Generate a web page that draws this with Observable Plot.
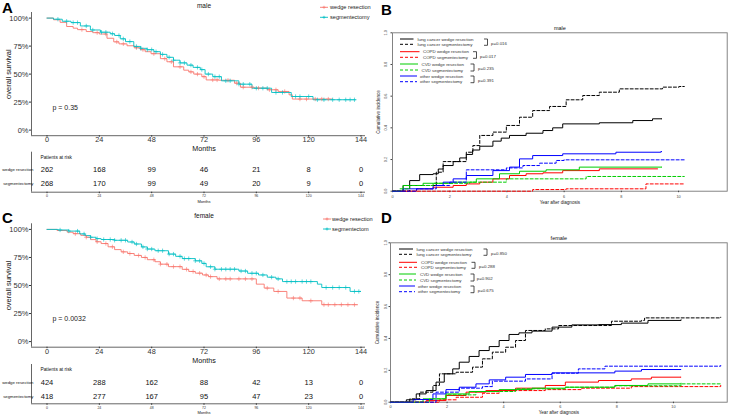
<!DOCTYPE html>
<html><head><meta charset="utf-8">
<script src="https://cdn.jsdelivr.net/npm/d3@7"></script>
<script src="https://cdn.jsdelivr.net/npm/@observablehq/plot@0.6"></script>
<style>
body{margin:0;background:#fff;}
#root{position:relative;width:730px;height:419px;overflow:hidden;background:#fff;font-family:"Liberation Sans",Arial,Helvetica,sans-serif;}
#root svg{overflow:visible;}
.letter{position:absolute;font-weight:bold;font-size:15px;line-height:1;color:#000;}
</style></head><body><div id="root"></div>
<script>
// ---------------- DATA ----------------
const kmMonthTicks = [0, 24, 48, 72, 96, 120, 144];
const survTicks = [0, 0.25, 0.5, 0.75, 1];
const riskGroups = ["wedge resection", "segmentectomy"];
const riskMonths = [0, 24, 48, 72, 96, 120, 144];

// Kaplan-Meier, male: [month, survival]
const maleWedgeKM = [[0,1],[3,0.985],[6,0.962],[9,0.925],[12,0.91],[14,0.897],[18,0.88],[21,0.87],[24,0.858],[27.5,0.82],[30.6,0.788],[33,0.77],[36.7,0.753],[40,0.735],[42.8,0.718],[45,0.70],[47.7,0.682],[52,0.638],[55,0.61],[58,0.565],[62.7,0.535],[65,0.52],[67.3,0.50],[71,0.477],[73,0.448],[79,0.445],[86,0.419],[88.7,0.383],[95,0.375],[101,0.36],[106,0.345],[111,0.315],[112.5,0.277],[131,0.277]];
const maleSegKM = [[0,1],[3,0.99],[7,0.972],[11,0.96],[15.3,0.93],[19.9,0.894],[24.5,0.874],[29,0.86],[31,0.845],[33.6,0.815],[36,0.79],[39.8,0.747],[43,0.73],[45.9,0.718],[49,0.70],[52,0.676],[55,0.65],[58,0.624],[61,0.60],[64.2,0.58],[67,0.56],[70.3,0.54],[72.5,0.50],[76,0.477],[80,0.44],[88,0.41],[94,0.374],[103,0.336],[112,0.30],[122,0.271],[141.5,0.271]];
const maleWedgeCensor = [16,23,27,32,35,41,44,49,54,57,61,66,69,72,76,78,83,87,90,94,97,102,105,109,116,119,123,126,129];
const maleSegCensor = [5,9,12,14,18,21,25,27,30,33,35,38,41,43,46,48,50,53,56,58,61,63,66,69,71,74,77,79,82,84,88,90,93,96,99,101,105,108,114,116,120,124,127,131,134,137,139,141];
const maleWedgeRisk = [262, 168, 99, 46, 21, 8, 0];
const maleSegRisk = [268, 170, 99, 49, 20, 9, 0];
const malePval = "p = 0.35";

// Kaplan-Meier, female
const femaleWedgeKM = [[0,1],[4.6,0.99],[9.3,0.975],[12,0.962],[15.5,0.947],[18,0.93],[20,0.909],[22.5,0.89],[24.8,0.874],[28,0.845],[31,0.82],[34,0.80],[37,0.785],[40,0.768],[43.3,0.75],[46,0.73],[49.5,0.712],[52,0.69],[55.7,0.668],[62,0.644],[65,0.625],[68,0.61],[71.3,0.594],[74,0.579],[78,0.559],[96,0.512],[99.6,0.477],[104,0.447],[110,0.388],[117,0.364],[126,0.329],[142.5,0.329]];
const femaleSegKM = [[0,1],[5,0.995],[10,0.985],[15,0.96],[17.5,0.945],[20,0.93],[22.5,0.918],[24.8,0.91],[31,0.903],[37,0.888],[40,0.87],[43.3,0.844],[46,0.825],[49.5,0.81],[55.7,0.78],[59,0.76],[62,0.74],[68,0.72],[71,0.697],[73,0.667],[77,0.645],[88,0.629],[92,0.609],[97,0.594],[101,0.574],[105,0.559],[108,0.535],[124,0.512],[126,0.482],[139,0.447],[144,0.447]];
const femaleWedgeCensor = [13,18,23,27,30,35,38,42,45,49,52,55,58,61,64,67,70,73,75,79,82,84,88,91,94,101,106,113,116,121,127,129,132,135,138,141];
const femaleSegCensor = [6,10,14,17,20,23,26,29,31,34,36,39,41,44,46,48,51,53,56,58,61,63,65,68,70,72,75,77,80,82,84,86,89,91,94,96,99,103,106,110,112,114,117,119,121,128,131,134,137,141,143];
const femaleWedgeRisk = [424, 288, 162, 88, 42, 13, 0];
const femaleSegRisk = [418, 277, 167, 95, 47, 23, 0];
const femalePval = "p = 0.0032";

// Cumulative incidence: [year, incidence]
const yearTicks = [0, 2, 4, 6, 8, 10];
const incTicks = [0, 0.2, 0.4, 0.6, 0.8, 1];
const causes = ["lung cancer", "COPD", "CVD", "other"];
const surgeries = ["wedge resection", "segmentectomy"];

const maleIncLungWedge = [[0,0],[0.37,0.036],[0.6,0.067],[0.95,0.105],[1.42,0.11],[1.6,0.14],[1.77,0.162],[2.12,0.187],[2.35,0.21],[2.58,0.232],[2.8,0.26],[3.05,0.284],[3.51,0.316],[3.8,0.335],[4.09,0.352],[4.67,0.366],[5.26,0.383],[5.6,0.40],[5.95,0.425],[7.23,0.432],[8.4,0.446],[9.09,0.457],[9.42,0.457]];
const maleIncLungSeg = [[0,0],[0.6,0.036],[1.3,0.036],[1.53,0.12],[1.77,0.187],[2.23,0.187],[2.58,0.246],[2.81,0.288],[3.05,0.352],[3.51,0.373],[3.98,0.415],[4.44,0.467],[4.9,0.509],[5.49,0.535],[6.07,0.577],[6.65,0.604],[7.23,0.625],[7.93,0.646],[9.44,0.657],[10.02,0.661],[10.2,0.661]];
const maleIncCopdWedge = [[0,0],[0.84,0.015],[1.42,0.025],[2.12,0.036],[2.58,0.046],[3.05,0.057],[3.51,0.078],[4.09,0.099],[4.67,0.11],[5.26,0.116],[5.95,0.13],[7.23,0.141],[9.27,0.141]];
const maleIncCopdSeg = [[0,0],[4.9,0.0105],[6.07,0.015],[8.86,0.046],[10.2,0.046]];
const maleIncCvdWedge = [[0,0],[0.37,0.036],[1.07,0.05],[2.12,0.057],[2.93,0.078],[3.74,0.11],[4.44,0.126],[5.37,0.135],[6.53,0.152],[9.42,0.152]];
const maleIncCvdSeg = [[0,0],[0.26,0.015],[0.6,0.036],[1.42,0.05],[2.7,0.057],[3.98,0.078],[6.77,0.093],[10.2,0.093]];
const maleIncOtherWedge = [[0,0],[0.37,0.015],[1.42,0.036],[1.77,0.057],[2.12,0.078],[2.58,0.099],[3.51,0.13],[4.09,0.152],[4.44,0.204],[4.9,0.225],[5.95,0.236],[7.81,0.246],[9.38,0.25],[9.42,0.25]];
const maleIncOtherSeg = [[0,0],[0.84,0.015],[1.53,0.036],[2.0,0.057],[2.58,0.135],[3.98,0.147],[4.56,0.162],[5.14,0.177],[5.72,0.194],[6.0,0.198],[10.2,0.198]];
const maleIncPvals = ["p=0.016", "p=0.017", "p=0.235", "p=0.391"];

const femaleIncLungWedge = [[0,0],[0.56,0.015],[0.91,0.052],[1.26,0.073],[1.61,0.126],[1.9,0.178],[2.2,0.209],[2.43,0.251],[2.78,0.287],[3.13,0.324],[3.49,0.349],[3.84,0.387],[4.19,0.425],[4.54,0.435],[5.0,0.446],[5.71,0.471],[6.41,0.485],[7.35,0.487],[8.16,0.496],[9.1,0.513],[10.27,0.517]];
const femaleIncLungSeg = [[0,0],[0.68,0.021],[1.03,0.063],[1.5,0.105],[1.73,0.178],[2.32,0.188],[2.9,0.22],[3.25,0.272],[3.6,0.314],[4.07,0.345],[4.42,0.387],[4.77,0.45],[5.47,0.46],[5.94,0.481],[7.23,0.481],[7.81,0.508],[8.87,0.513],[8.98,0.529],[11.67,0.533]];
const femaleIncCopdWedge = [[0,0],[1.26,0.01],[1.96,0.042],[2.67,0.063],[3.37,0.073],[4.42,0.088],[5.47,0.105],[6.18,0.126],[7.35,0.136],[8.51,0.146],[9.22,0.157],[10.27,0.157]];
const femaleIncCopdSeg = [[0,0],[1.73,0.015],[2.32,0.031],[3.25,0.056],[3.84,0.073],[5.47,0.079],[6.76,0.088],[8.51,0.098],[11.67,0.105]];
const femaleIncCvdWedge = [[0,0],[1.15,0.021],[1.96,0.052],[2.78,0.067],[3.84,0.079],[5.0,0.088],[6.18,0.094],[7.93,0.105],[9.1,0.115],[10.27,0.119]];
const femaleIncCvdSeg = [[0,0],[1.38,0.021],[1.96,0.046],[3.02,0.067],[4.42,0.084],[6.18,0.094],[7.93,0.103],[10.27,0.115],[11.67,0.115]];
const femaleIncOtherWedge = [[0,0],[0.8,0.017],[1.5,0.052],[1.96,0.079],[2.43,0.094],[3.02,0.115],[3.49,0.14],[4.07,0.157],[4.77,0.174],[5.71,0.184],[7.93,0.195],[8.87,0.205],[10.27,0.205]];
const femaleIncOtherSeg = [[0,0],[1.61,0.063],[2.43,0.088],[3.25,0.098],[3.6,0.132],[4.77,0.146],[5.71,0.182],[6.64,0.209],[7.58,0.226],[11.67,0.23]];
const femaleIncPvals = ["p=0.850", "p=0.288", "p=0.902", "p=0.675"];

// ---------------- STYLE / LAYOUT ----------------
const FONT = '"Liberation Sans", Arial, Helvetica, sans-serif';
const kmColors = ["#F8766D", "#00BFC4"];
const causeColors = ["#000000", "#ff0000", "#00cd00", "#0000ff"];
const root = document.getElementById("root");
function place(el, left, top) {
  el.style.position = "absolute";
  el.style.left = left + "px";
  el.style.top = top + "px";
  root.appendChild(el);
}
function stepValue(km, t) {
  let v = km[0][1];
  for (const [tt, vv] of km) { if (tt <= t) v = vv; else break; }
  return v;
}
const kmXDomain = [-7.11, 146.06];
const kmMid = (kmMonthTicks[0] + kmMonthTicks[kmMonthTicks.length - 1]) / 2;
const C = {lineAnchor: "middle", textAnchor: "middle"};

function kmPlot(o) {
  const yDom = [-0.05, 1.05];
  const series = [o.wedge, o.seg];
  const cens = [o.wedgeC, o.segC];
  const rows = [], crow = [];
  series.forEach((s, i) => s.forEach(([t, v]) => rows.push({t, v, g: riskGroups[i]})));
  cens.forEach((c, i) => c.forEach(t => crow.push({t, v: stepValue(series[i], t), g: riskGroups[i]})));
  return Plot.plot({
    width: 365, height: o.height, marginLeft: 31, marginRight: 0, marginTop: o.mt, marginBottom: o.mb,
    style: {fontFamily: FONT, fontSize: "7.5px", background: "transparent", overflow: "visible"},
    x: {domain: kmXDomain}, y: {domain: yDom},
    color: {domain: riskGroups, range: kmColors},
    marks: [
      Plot.ruleY([yDom[0]], {stroke: "#555", strokeWidth: 0.9}),
      Plot.ruleX([kmXDomain[0]], {stroke: "#555", strokeWidth: 0.9}),
      Plot.axisX({ticks: kmMonthTicks, tickSize: 1.5, tickPadding: 0, fontSize: 7.3, color: "#333", label: null}),
      Plot.axisY({ticks: survTicks, tickFormat: d => Math.round(d * 100) + "%", tickSize: 2, tickPadding: 1, fontSize: 7.5, color: "#333", label: null}),
      Plot.line(rows, {x: "t", y: "v", z: "g", stroke: "g", curve: "step-after", strokeWidth: 0.9}),
      Plot.dot(crow, {x: "t", y: "v", stroke: "g", symbol: "plus", r: 1.5, strokeWidth: 0.6}),
      Plot.text([o.pval], {frameAnchor: "bottom-left", dx: 21, dy: -28, textAnchor: "start", lineAnchor: "middle", fontSize: 7, fill: "#222"}),
      Plot.text(["Months"], {...C, x: () => kmMid, frameAnchor: "bottom", dy: o.monthsDy, fontSize: 7.2, fill: "#111"}),
      Plot.text(["overall survival"], {...C, frameAnchor: "left", rotate: -90, dx: -23, fontSize: 7.5, fill: "#111"}),
      Plot.text([o.title], {...C, x: () => kmMid, frameAnchor: "top", dy: o.titleDy, fontSize: 6.5, fill: "#111"})
    ]
  });
}

function riskPlot(o) {
  const rows = [];
  [o.wedge, o.seg].forEach((arr, i) => arr.forEach((n, j) => rows.push({t: riskMonths[j], row: i + 1, n})));
  const yDom = o.yDom;
  return Plot.plot({
    width: 365, height: o.height, marginLeft: 31, marginRight: 0, marginTop: o.mt, marginBottom: o.mb,
    style: {fontFamily: FONT, fontSize: "4px", background: "transparent", overflow: "visible"},
    x: {domain: kmXDomain}, y: {domain: yDom, axis: null},
    marks: [
      Plot.ruleY([yDom[0]], {stroke: "#555", strokeWidth: 0.9}),
      Plot.ruleX([kmXDomain[0]], {stroke: "#555", strokeWidth: 0.9}),
      Plot.axisX({ticks: riskMonths, tickSize: 1.5, tickPadding: 1, fontSize: 3.5, color: "#333", label: null}),
      Plot.text(rows, {...C, x: "t", y: "row", text: "n", fontSize: 7.5, fill: "#111"}),
      Plot.text(riskGroups, {y: (d, i) => i + 1, text: d => d, frameAnchor: "left", textAnchor: "end", lineAnchor: "middle", dx: 2, fontSize: 4.3, fill: "#111"}),
      Plot.text(["Patients at risk"], {frameAnchor: "top-left", dx: 9, dy: o.titleDy, textAnchor: "start", lineAnchor: "middle", fontSize: 4.8, fill: "#111"}),
      Plot.text(["Months"], {...C, x: () => kmMid, frameAnchor: "bottom", dy: o.monthsDy, fontSize: 4, fill: "#111"})
    ]
  });
}

function incPlot(o) {
  const rows = [];
  o.series.forEach(([cause, surg, arr]) => arr.forEach(([t, v]) => rows.push({t, v, cause, surg, key: cause + surg})));
  const xDom = o.xDom;
  return Plot.plot({
    width: 365, height: o.height, marginLeft: o.ml, marginRight: 3.3, marginTop: 32.3, marginBottom: o.mb,
    style: {fontFamily: FONT, fontSize: "4px", background: "transparent", overflow: "visible"},
    x: {domain: xDom}, y: {domain: [0, 1]},
    color: {domain: causes, range: causeColors},
    marks: [
      Plot.frame({stroke: "#777", strokeWidth: 0.9}),
      Plot.axisX({ticks: yearTicks, tickSize: 1.5, tickPadding: o.xPad, fontSize: 3.8, color: "#444", label: null}),
      Plot.axisY({ticks: incTicks, tickSize: 1.5, tickFormat: () => "", color: "#444", label: null}),
      Plot.text(incTicks, {...C, y: d => d, text: d => d.toFixed(1), frameAnchor: "left", dx: o.yLabDx, rotate: -90, fontSize: 3.8, fill: "#444"}),
      Plot.line(rows.filter(d => d.surg === surgeries[0]), {x: "t", y: "v", z: "key", stroke: "cause", curve: "step-after", strokeWidth: 1}),
      Plot.line(rows.filter(d => d.surg === surgeries[1]), {x: "t", y: "v", z: "key", stroke: "cause", curve: "step-after", strokeWidth: 1, strokeDasharray: "3,2"}),
      Plot.text([o.title], {...C, x: () => (xDom[0] + xDom[1]) / 2, frameAnchor: "top", dy: -4.2, fontSize: 5.5, fill: "#111"}),
      Plot.text(["Year after diagnosis"], {...C, x: () => (xDom[0] + xDom[1]) / 2, frameAnchor: "bottom", dy: o.xTitleDy, fontSize: 4.6, fill: "#222"}),
      Plot.text(["Cumulative incidence"], {...C, frameAnchor: "left", rotate: -90, dx: o.yTitleDx, fontSize: 4.6, fill: "#222"})
    ]
  });
}

// ---------------- BUILD ----------------
place(kmPlot({wedge: maleWedgeKM, seg: maleSegKM, wedgeC: maleWedgeCensor, segC: maleSegCensor,
  pval: malePval, title: "male", height: 152, mt: 12, mb: 16.8, titleDy: -6.3, monthsDy: 13}), 0, 0);
place(riskPlot({wedge: maleWedgeRisk, seg: maleSegRisk, height: 56, mt: 1.7, mb: 14.3,
  yDom: [2.621, -0.236], titleDy: 5.3, monthsDy: 9.3}), 0, 150);
place(kmPlot({wedge: femaleWedgeKM, seg: femaleSegKM, wedgeC: femaleWedgeCensor, segC: femaleSegCensor,
  pval: femalePval, title: "female", height: 154, mt: 13.3, mb: 17.3, titleDy: -7.6, monthsDy: 13.5}), 0, 210);
place(riskPlot({wedge: femaleWedgeRisk, seg: femaleSegRisk, height: 57, mt: 2, mb: 15.7,
  yDom: [2.543, -0.264], titleDy: 5, monthsDy: 9}), 0, 362);

place(incPlot({title: "male", height: 210, ml: 27, mb: 19.3, xDom: [0, 11.7], xPad: 3, xTitleDy: 11, yTitleDx: -13.7, yLabDx: -6.3,
  series: [["lung cancer", surgeries[0], maleIncLungWedge], ["lung cancer", surgeries[1], maleIncLungSeg],
           ["COPD", surgeries[0], maleIncCopdWedge], ["COPD", surgeries[1], maleIncCopdSeg],
           ["CVD", surgeries[0], maleIncCvdWedge], ["CVD", surgeries[1], maleIncCvdSeg],
           ["other", surgeries[0], maleIncOtherWedge], ["other", surgeries[1], maleIncOtherSeg]]}), 365, 0);
place(incPlot({title: "female", height: 209, ml: 25, mb: 17.3, xDom: [0, 11.9], xPad: 2, xTitleDy: 10, yTitleDx: -13.3, yLabDx: -5,
  series: [["lung cancer", surgeries[0], femaleIncLungWedge], ["lung cancer", surgeries[1], femaleIncLungSeg],
           ["COPD", surgeries[0], femaleIncCopdWedge], ["COPD", surgeries[1], femaleIncCopdSeg],
           ["CVD", surgeries[0], femaleIncCvdWedge], ["CVD", surgeries[1], femaleIncCvdSeg],
           ["other", surgeries[0], femaleIncOtherWedge], ["other", surgeries[1], femaleIncOtherSeg]]}), 365, 210);

// ---------------- LEGENDS (overlay) ----------------
const ov = d3.create("svg").attr("width", 730).attr("height", 419)
  .style("position", "absolute").style("left", "0px").style("top", "0px")
  .style("pointer-events", "none").style("font-family", FONT).style("overflow", "visible");
function kmLegend(x0, y0, labels, textGap) {
  labels.forEach((lab, i) => {
    const y = y0 + i * 10, c = kmColors[i];
    ov.append("line").attr("x1", x0).attr("x2", x0 + 8).attr("y1", y).attr("y2", y).attr("stroke", c).attr("stroke-width", 0.9);
    ov.append("path").attr("d", `M${x0 + 2.5},${y}h3M${x0 + 4},${y - 1.5}v3`).attr("stroke", c).attr("stroke-width", 0.7);
    ov.append("text").attr("x", x0 + textGap).attr("y", y).attr("dy", "0.35em").attr("font-size", 5.6).attr("fill", "#222").text(lab);
  });
}
kmLegend(320, 7.3, riskGroups, 10);
kmLegend(323, 219, [riskGroups[0], "segmentectom"], 9);

function incLegend(cfg, pvals) {
  causes.forEach((cause, k) => {
    const g = cfg.groups[k];
    surgeries.forEach((s, j) => {
      const y = cfg.rowsY[2 * k + j];
      ov.append("line").attr("x1", cfg.lx0).attr("x2", g.lx1).attr("y1", y).attr("y2", y)
        .attr("stroke", causeColors[k]).attr("stroke-width", 1).attr("stroke-dasharray", j ? "3,2" : null);
      ov.append("text").attr("x", g.tx).attr("y", y).attr("dy", "0.35em").attr("font-size", 4.4).attr("fill", "#333").text(cause + " " + s);
    });
    const y1 = cfg.rowsY[2 * k], y2 = cfg.rowsY[2 * k + 1] + 1;
    ov.append("path").attr("d", `M${g.bx},${y1}h3.5V${y2}h-3.5`).attr("fill", "none").attr("stroke", "#222").attr("stroke-width", 0.8);
    ov.append("text").attr("x", g.px).attr("y", (y1 + y2) / 2 + 1).attr("dy", "0.35em").attr("font-size", 4.4).attr("fill", "#333").text(pvals[k]);
  });
}
incLegend({lx0: 400, rowsY: [39, 44.3, 51.7, 57.3, 64, 70, 76, 81.7],
  groups: [{lx1: 413.5, tx: 417.5, bx: 484, px: 491}, {lx1: 419.5, tx: 423, bx: 473, px: 480},
           {lx1: 418, tx: 421.5, bx: 470.5, px: 478}, {lx1: 417, tx: 420, bx: 470.5, px: 478}]}, maleIncPvals);
incLegend({lx0: 399, rowsY: [249, 254.3, 262.3, 267.3, 274, 280, 286, 291.7],
  groups: [{lx1: 413, tx: 416.5, bx: 483.5, px: 491}, {lx1: 417, tx: 421, bx: 471.5, px: 479},
           {lx1: 416, tx: 420, bx: 470.5, px: 476.7}, {lx1: 415, tx: 418, bx: 470.5, px: 477.7}]}, femaleIncPvals);
root.appendChild(ov.node());

// ---------------- PANEL LETTERS ----------------
[["A", 2, 0], ["B", 381, 2], ["C", 2, 210], ["D", 381, 210]].forEach(([t, x, y]) => {
  const d = document.createElement("div");
  d.className = "letter"; d.textContent = t; d.style.left = x + "px"; d.style.top = y + "px";
  root.appendChild(d);
});
</script></body></html>
